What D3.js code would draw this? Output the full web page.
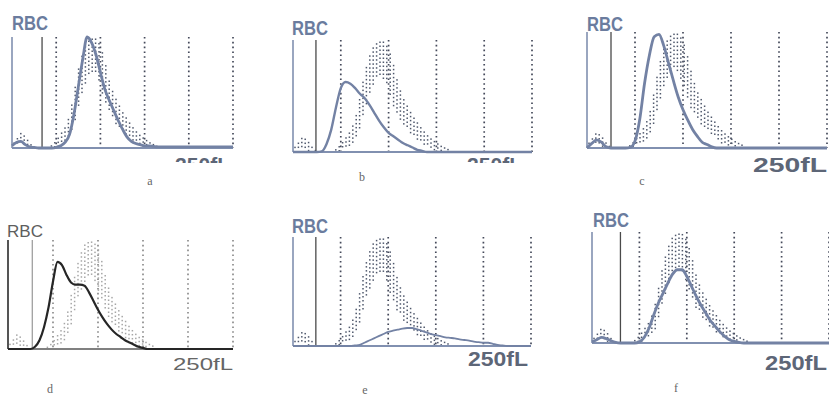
<!DOCTYPE html>
<meta charset="utf-8">
<script src="https://d3js.org/d3.v7.min.js"></script>
<style>
  body { margin:0; background:#fff; }
  svg { display:block; }
</style>
<div id="chart"></div>
<script>

// volume bins in fL, 0 .. 250 step 5
const bins = d3.range(0, 251, 5);

// patient histograms, relative height (1 = top of frame)
const curveA = [0.02,0.05,0.06,0.03,0.01,0.005,0,0,0,0,0.005,0.02,0.05,0.12,0.3,0.55,0.8,1.0,0.95,0.84,0.68,0.53,0.43,0.34,0.25,0.17,0.1,0.06,0.04,0.03,0.02,0.02,0.015,0.01,
  0.01,0.01,0.01,0.01,0.01,0.01,0.01,0.01,0.01,0.01,0.01,0.01,0.01,0.01,0.01,0.01,0.01];
const curveB = [0,0,0,0,0,0,0.005,0.07,0.2,0.4,0.57,0.625,0.61,0.57,0.52,0.48,0.42,0.35,0.28,0.22,0.17,0.14,0.11,0.08,0.06,0.04,0.02,0.01,
  0,0,0,0,0,0,0,0,0,0,0,0,0,0,0,0,0,0,0,0,0,0,0];
const curveC = [0,0.04,0.07,0.05,0.01,0,0,0,0,0.005,0.06,0.25,0.56,0.8,0.96,0.98,0.88,0.73,0.58,0.44,0.33,0.24,0.16,0.1,0.05,0.03,0.01,
  0,0,0,0,0,0,0,0,0,0,0,0,0,0,0,0,0,0,0,0,0,0,0,0];
const curveD = [0,0,0,0,0,0,0.02,0.08,0.2,0.38,0.62,0.8,0.77,0.68,0.61,0.59,0.59,0.58,0.52,0.44,0.36,0.29,0.23,0.18,0.14,0.11,0.08,0.06,0.04,0.02,0.01,
  0,0,0,0,0,0,0,0,0,0,0,0,0,0,0,0,0,0,0,0];
const curveE = [0,0,0,0,0,0,0,0,0,0,0,0,0,0.005,0.01,0.03,0.05,0.07,0.09,0.11,0.13,0.14,0.15,0.16,0.165,0.165,0.155,0.14,0.125,0.11,0.1,0.09,0.08,0.075,0.07,0.06,0.055,0.05,0.04,0.035,0.03,0.03,0.02,0.01,0.005,
  0,0,0,0,0,0];
const curveF = [0.01,0.03,0.05,0.04,0.02,0.005,0,0,0,0,0.01,0.05,0.13,0.25,0.36,0.45,0.54,0.62,0.66,0.66,0.6,0.51,0.42,0.34,0.27,0.2,0.15,0.1,0.06,0.03,0.015,0.005,
  0,0,0,0,0,0,0,0,0,0,0,0,0,0,0,0,0,0,0];

// normal reference range (dotted band): lower and upper edge
const refLow  = [0,0.02,0.03,0.02,0,0,0,0,0,0,0.01,0.03,0.06,0.1,0.2,0.38,0.52,0.62,0.68,0.66,0.55,0.42,0.32,0.25,0.2,0.15,0.11,0.08,0.05,0.03,0.01,0,0,0,
  0,0,0,0,0,0,0,0,0,0,0,0,0,0,0,0,0];
const refHigh = [0.02,0.07,0.13,0.1,0.04,0,0,0,0,0.02,0.06,0.12,0.18,0.28,0.48,0.7,0.85,0.95,0.98,0.98,0.92,0.78,0.6,0.48,0.4,0.32,0.26,0.2,0.15,0.11,0.08,0.05,0.03,0.01,
  0,0,0,0,0,0,0,0,0,0,0,0,0,0,0,0,0];

const gridLines = [50, 100, 150, 200, 250];      // fL
const discriminators = [34, 24, 25, 27, 24, 30]; // lower RBC discriminator, fL
const curves = [curveA, curveB, curveC, curveD, curveE, curveF];
const captions = ["a", "b", "c", "d", "e", "f"];
const title = "RBC";
const axisLabel = "250fL";

// where each printout sits on the page
const layout = [
  {x0: 12,  x1: 233, top: 37,  base: 148, tx: 12,  ty: 30,  lx: 175, lw: 55, ly: 172, cut: 163, cx: 150, cy: 185, lw2: 2.8},
  {x0: 293, x1: 532, top: 40,  base: 152, tx: 292, ty: 35,  lx: 467, lw: 55, ly: 172, cut: 163, cx: 362, cy: 181, lw2: 2.4},
  {x0: 587, x1: 827, top: 32,  base: 148, tx: 587, ty: 31,  lx: 753, lw: 74, ly: 172, cut: null, cx: 642, cy: 185, lw2: 2.8},
  {x0: 8,   x1: 233, top: 240, base: 349, tx: 7,   ty: 237, lx: 173, lw: 60, ly: 370, cut: null, cx: 50,  cy: 393, lw2: 2.2, dark: true},
  {x0: 293, x1: 531, top: 237, base: 346, tx: 292, ty: 233, lx: 468, lw: 60, ly: 366, cut: null, cx: 365, cy: 394, lw2: 1.8},
  {x0: 592, x1: 829, top: 232, base: 343, tx: 593, ty: 227, lx: 765, lw: 62, ly: 370, cut: null, cx: 676, cy: 392, lw2: 2.8}
];

const blue = {text: "#6b7c9e", axis: "#8190b0", curve: "#7382a4", dots: "#4f586c", grid: "#44495a", disc: "#4a4a4a"};
const gray = {text: "#5e5e5e", axis: "#808080", curve: "#262626", dots: "#a6a6a6", grid: "#8c8c8c", disc: "#a0a0a0"};

const svg = d3.select("#chart").append("svg")
  .attr("width", 829)
  .attr("height", 396);
const defs = svg.append("defs");

const lowAt = d3.scaleLinear().domain(bins).range(refLow);
const highAt = d3.scaleLinear().domain(bins).range(refHigh);

layout.forEach(function (p, i) {
  const th = p.dark ? gray : blue;
  const x = d3.scaleLinear().domain([0, 250]).range([p.x0, p.x1]);
  const y = d3.scaleLinear().domain([0, 1]).range([p.base, p.top]);
  const g = svg.append("g");

  // dotted gridlines
  g.append("g").selectAll("line")
    .data(gridLines)
    .join("line")
    .attr("x1", d => x(d)).attr("x2", d => x(d))
    .attr("y1", y(1)).attr("y2", y(0))
    .attr("stroke", th.grid)
    .attr("stroke-width", 1.7)
    .attr("stroke-dasharray", "1.6,3.2");

  // reference band as columns of dots
  const dots = [];
  for (let px = x(0) + 2; px <= x(250); px += 3.4) {
    const f = x.invert(px);
    const hi = highAt(f), lo = lowAt(f);
    if (hi < 0.012) continue;
    for (let py = y(hi); py <= y(lo) + 0.5 && py < y(0) - 1; py += 4) dots.push([px, py]);
  }
  g.append("g").selectAll("rect")
    .data(dots)
    .join("rect")
    .attr("x", d => d[0] - 0.75)
    .attr("y", d => d[1] - 0.75)
    .attr("width", 1.5)
    .attr("height", 1.5)
    .attr("fill", th.dots);

  // discriminator
  g.append("line")
    .attr("x1", x(discriminators[i])).attr("x2", x(discriminators[i]))
    .attr("y1", y(1)).attr("y2", y(0))
    .attr("stroke", th.disc)
    .attr("stroke-width", 1.3);

  // axes
  g.append("line")
    .attr("x1", x(0)).attr("x2", x(0))
    .attr("y1", y(1)).attr("y2", y(0))
    .attr("stroke", p.dark ? "#555" : th.axis)
    .attr("stroke-width", p.dark ? 2 : 1.6);
  g.append("line")
    .attr("x1", x(0)).attr("x2", x(250))
    .attr("y1", y(0)).attr("y2", y(0))
    .attr("stroke", th.axis)
    .attr("stroke-width", 2);

  // patient curve
  const line = d3.line()
    .x((d, j) => x(bins[j]))
    .y(d => y(d))
    .curve(d3.curveMonotoneX);
  g.append("path")
    .datum(curves[i])
    .attr("d", line)
    .attr("fill", "none")
    .attr("stroke", th.curve)
    .attr("stroke-width", p.lw2)
    .attr("stroke-linejoin", "round");

  // labels
  g.append("text")
    .attr("x", p.tx).attr("y", p.ty)
    .attr("textLength", 36)
    .attr("lengthAdjust", "spacingAndGlyphs")
    .style("font-family", "Liberation Sans, Arial, sans-serif")
    .style("font-size", p.dark ? "17px" : "21px")
    .style("font-weight", p.dark ? "normal" : "bold")
    .attr("fill", th.text)
    .text(title);

  const lab = g.append("text")
    .attr("x", p.lx).attr("y", p.ly)
    .attr("textLength", p.lw)
    .attr("lengthAdjust", "spacingAndGlyphs")
    .style("font-family", "Liberation Sans, Arial, sans-serif")
    .style("font-size", p.dark ? "17px" : "20px")
    .style("font-weight", p.dark ? "normal" : "bold")
    .attr("fill", p.dark ? "#666" : "#5d6677")
    .text(axisLabel);
  if (p.cut) {
    defs.append("clipPath").attr("id", "cut" + i)
      .append("rect")
      .attr("x", p.lx - 2).attr("y", p.ly - 20)
      .attr("width", p.lw + 4).attr("height", p.cut - (p.ly - 20));
    lab.attr("clip-path", "url(#cut" + i + ")");
  }

  g.append("text")
    .attr("x", p.cx).attr("y", p.cy)
    .attr("text-anchor", "middle")
    .style("font-family", "Liberation Serif, Times New Roman, serif")
    .style("font-size", "12px")
    .attr("fill", "#666")
    .text(captions[i]);
});

</script>
